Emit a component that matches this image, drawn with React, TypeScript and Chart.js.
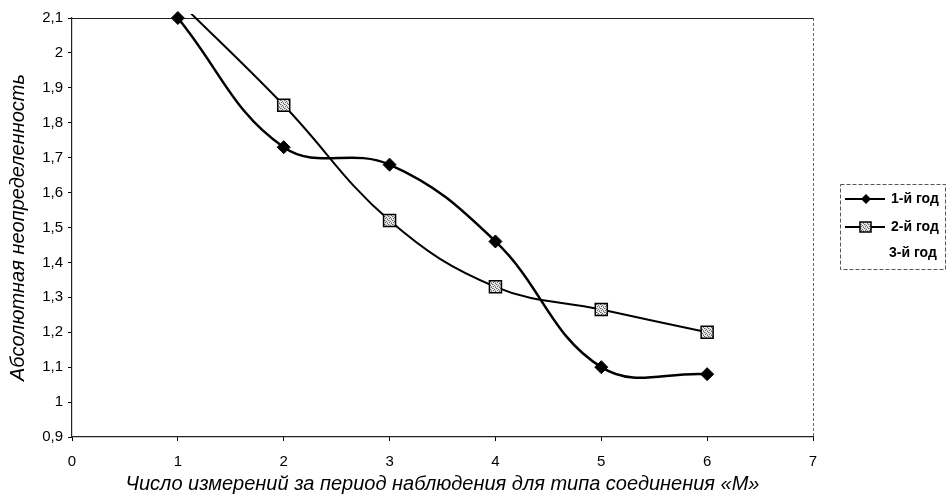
import React, { useEffect, useRef } from 'react';
import { Chart, registerables } from 'chart.js';

Chart.register(...registerables);

const xValues = [1, 2, 3, 4, 5, 6];
const year1 = [2.1, 1.73, 1.68, 1.46, 1.1, 1.08];
const year2 = [2.15, 1.85, 1.52, 1.33, 1.265, 1.2];
const year3: number[] = [];
const seriesLabels = ['1-й год', '2-й год', '3-й год'];
const yMin = 0.9;
const yMax = 2.1;
const yStep = 0.1;
const xMin = 0;
const xMax = 7;
const xStep = 1;
const xTitle = 'Число измерений за период наблюдения для типа соединения «М»';
const yTitle = 'Абсолютная неопределенность';

const FONT = '"Liberation Sans", Arial, sans-serif';

function makePattern(): CanvasPattern | string {
  const c = document.createElement('canvas');
  c.width = 4;
  c.height = 4;
  const g = c.getContext('2d');
  if (!g) return '#999';
  g.fillStyle = '#e8e8e8';
  g.fillRect(0, 0, 4, 4);
  g.fillStyle = '#666';
  g.fillRect(0, 0, 1, 1);
  g.fillRect(2, 1, 1, 1);
  g.fillRect(1, 2, 1, 1);
  g.fillRect(3, 3, 1, 1);
  g.fillStyle = '#aaa';
  g.fillRect(1, 0, 1, 1);
  g.fillRect(3, 2, 1, 1);
  return g.createPattern(c, 'repeat') || '#999';
}

const framePlugin = {
  id: 'frame',
  beforeDatasetsDraw(chart: any) {
    const { ctx, chartArea } = chart;
    const { left, top, right, bottom } = chartArea;
    ctx.save();
    ctx.strokeStyle = '#222';
    ctx.lineWidth = 1.2;
    ctx.beginPath();
    ctx.moveTo(left, top + 0.5);
    ctx.lineTo(right, top + 0.5);
    ctx.stroke();
    ctx.strokeStyle = '#666';
    ctx.lineWidth = 1;
    ctx.setLineDash([3, 2]);
    ctx.beginPath();
    ctx.moveTo(right + 0.5, top);
    ctx.lineTo(right + 0.5, bottom);
    ctx.stroke();
    ctx.restore();
  },
};

const legendPlugin = {
  id: 'customLegend',
  afterDraw(chart: any) {
    const { ctx } = chart;
    const pattern = chart.$pattern;
    const boxL = 840;
    const boxT = 184;
    const boxR = 945;
    const boxB = 269;
    ctx.save();
    ctx.strokeStyle = '#555';
    ctx.lineWidth = 1;
    ctx.setLineDash([4, 2]);
    ctx.strokeRect(boxL + 0.5, boxT + 0.5, boxR - boxL, boxB - boxT);
    ctx.setLineDash([]);
    const rows = [199, 227, 253];
    seriesLabels.forEach((label, i) => {
      const y = rows[i];
      if (i < 2) {
        ctx.strokeStyle = '#000';
        ctx.lineWidth = 2;
        ctx.beginPath();
        ctx.moveTo(845, y);
        ctx.lineTo(885, y);
        ctx.stroke();
        if (i === 0) {
          ctx.fillStyle = '#000';
          ctx.beginPath();
          ctx.moveTo(866, y - 5);
          ctx.lineTo(871, y);
          ctx.lineTo(866, y + 5);
          ctx.lineTo(861, y);
          ctx.closePath();
          ctx.fill();
        } else {
          ctx.fillStyle = pattern;
          ctx.fillRect(860, y - 5, 11, 10);
          ctx.strokeStyle = '#000';
          ctx.lineWidth = 1.5;
          ctx.strokeRect(860, y - 5, 11, 10);
        }
      }
      ctx.fillStyle = '#000';
      ctx.font = `bold 14px ${FONT}`;
      ctx.textAlign = 'left';
      ctx.textBaseline = 'middle';
      ctx.fillText(label, i === 2 ? 889 : 891, y);
    });
    ctx.restore();
  },
};

function fmt(v: number): string {
  return String(Number(v.toFixed(1))).replace('.', ',');
}

export default function App() {
  const ref = useRef<HTMLCanvasElement | null>(null);

  useEffect(() => {
    if (!ref.current) return;
    const pattern = makePattern();
    const chart = new Chart(ref.current, {
      type: 'line',
      data: {
        datasets: [
          {
            label: seriesLabels[0],
            data: xValues.map((x, i) => ({ x, y: year1[i] })),
            borderColor: '#000',
            backgroundColor: '#000',
            borderWidth: 2.5,
            tension: 0.4,
            pointStyle: 'rectRot',
            pointRadius: 6.5,
            pointBackgroundColor: '#000',
            pointBorderColor: '#000',
            pointBorderWidth: 1,
            clip: { top: 8, left: 0, right: 0, bottom: 0 } as any,
          },
          {
            label: seriesLabels[1],
            data: xValues.map((x, i) => ({ x, y: year2[i] })),
            borderColor: '#000',
            backgroundColor: pattern as any,
            borderWidth: 2,
            tension: 0.4,
            pointStyle: 'rect',
            pointRadius: 8.5,
            pointBackgroundColor: pattern as any,
            pointBorderColor: '#000',
            pointBorderWidth: 1.5,
            clip: { top: 4, left: 0, right: 0, bottom: 0 } as any,
          },
          {
            label: seriesLabels[2],
            data: year3,
            borderColor: '#000',
            showLine: false,
            pointRadius: 0,
          },
        ],
      },
      options: {
        responsive: true,
        maintainAspectRatio: false,
        animation: false,
        layout: { padding: { top: 18, right: 134, left: 0, bottom: 0 } },
        plugins: {
          legend: { display: false },
          tooltip: { enabled: false },
        },
        scales: {
          x: {
            type: 'linear',
            min: xMin,
            max: xMax,
            afterFit: (s: any) => {
              s.height = 62;
            },
            ticks: {
              stepSize: xStep,
              color: '#000',
              font: { family: FONT, size: 15 },
              padding: 12,
              maxRotation: 0,
            },
            grid: {
              drawOnChartArea: false,
              drawTicks: true,
              tickLength: 4,
              color: '#000',
            },
            border: { display: true, color: '#222', width: 1.2 },
            title: {
              display: true,
              text: xTitle,
              color: '#000',
              font: { family: FONT, size: 20, style: 'italic' },
              padding: { top: 0, bottom: 3 },
            },
          },
          y: {
            type: 'linear',
            min: yMin,
            max: yMax,
            afterFit: (s: any) => {
              s.width = 72;
            },
            ticks: {
              stepSize: yStep,
              color: '#000',
              font: { family: FONT, size: 15 },
              padding: 5,
              callback: (v: any) => fmt(Number(v)),
            },
            grid: {
              drawOnChartArea: false,
              drawTicks: true,
              tickLength: 4,
              color: '#000',
            },
            border: { display: true, color: '#222', width: 1.2 },
            title: {
              display: true,
              text: yTitle,
              color: '#000',
              font: { family: FONT, size: 20, style: 'italic' },
              padding: { top: 6, bottom: 0 },
            },
          },
        },
      },
      plugins: [framePlugin, legendPlugin],
    });
    (chart as any).$pattern = pattern;
    chart.draw();
    return () => chart.destroy();
  }, []);

  return (
    <div style={{ position: 'absolute', left: 0, top: 0, width: 947, height: 499 }}>
      <canvas ref={ref} />
    </div>
  );
}
